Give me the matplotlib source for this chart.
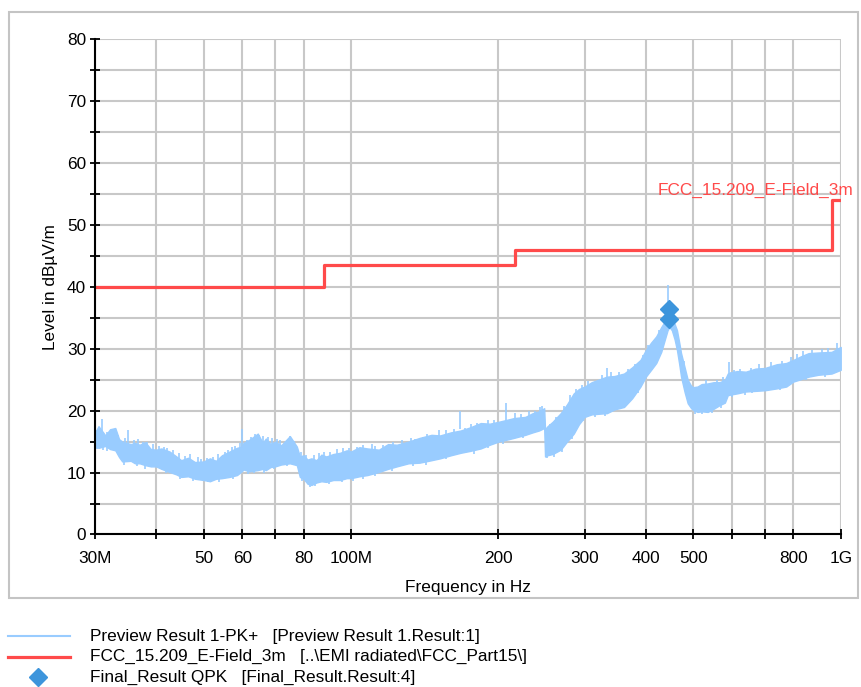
import matplotlib
matplotlib.use("Agg")
import matplotlib.pyplot as plt
from matplotlib.lines import Line2D
from matplotlib.patches import Rectangle
from matplotlib.ticker import FixedLocator, NullLocator

plt.rcParams['font.family'] = ['Liberation Sans', 'DejaVu Sans']

# Preview scan envelope (MHz, lower dB, upper dB)
scan_mhz = [30.0, 30.5, 31.5, 32.2, 33.0, 33.6, 34.1, 35.5, 36.2, 37.0, 38.0, 39.0,
            40.0, 41.0, 42.6, 44.0, 45.0, 46.5, 48.0, 50.0, 51.5, 53.0, 54.5, 56.5,
            58.5, 59.8, 60.3, 62.0, 64.5, 66.0, 67.0, 68.5, 70.0, 72.0, 75.0, 77.5,
            78.6, 80.0, 81.5, 83.0, 85.0, 87.0, 89.0, 92.0, 95.0, 98.0, 100.0, 104.0,
            108.0, 114.0, 119.0, 124.0, 131.0, 138.0, 146.0, 152.0, 160.0, 167.5, 175.0,
            184.0, 192.0, 200.0, 207.5, 215.0, 227.0, 235.0, 242.0, 248.0, 249.0, 252.0,
            258.0, 268.0, 276.0, 285.0, 292.0, 300.0, 310.0, 320.0, 333.0, 345.0, 361.0,
            375.0, 390.0, 400.0, 410.0, 420.0, 430.0, 437.0, 443.0, 447.0, 452.0, 458.0,
            463.0, 468.0, 472.0, 480.0, 487.0, 495.0, 500.0, 510.0, 520.0, 535.0, 550.0,
            566.0, 580.0, 588.0, 595.0, 615.0, 640.0, 670.0, 700.0, 740.0, 774.0, 800.0,
            830.0, 860.0, 900.0, 958.0, 1000.0]
scan_lo = [14.2, 14.0, 14.3, 13.8, 13.6, 12.5, 11.8, 11.9, 11.5, 11.5, 11.2, 11.0,
           11.0, 10.6, 10.1, 9.7, 9.3, 9.4, 9.0, 8.8, 8.6, 9.0, 9.1, 9.3,
           9.6, 10.2, 10.5, 10.2, 10.4, 10.6, 10.4, 10.9, 11.0, 11.3, 11.5, 11.2,
           9.3, 9.0, 8.2, 8.0, 8.4, 8.6, 8.5, 8.8, 8.8, 9.1, 9.1, 9.4,
           9.6, 10.1, 10.6, 11.0, 11.5, 11.6, 12.0, 12.3, 12.8, 13.2, 13.5,
           13.9, 14.5, 15.0, 15.3, 15.6, 16.1, 16.5, 16.8, 17.2, 12.6, 12.8,
           13.0, 13.7, 15.0, 16.3, 17.8, 19.0, 19.4, 19.5, 19.6, 20.2, 20.6,
           22.0, 23.9, 25.5, 26.6, 27.7, 29.5, 31.4, 33.0, 33.5, 33.0, 31.5,
           29.8, 27.5, 25.5, 23.0, 21.2, 20.4, 20.1, 19.8, 19.9, 19.8, 20.3,
           20.9, 21.3, 22.5, 22.6, 22.8, 23.1, 23.2, 23.3, 23.6, 23.9, 24.7,
           25.1, 25.5, 25.8, 26.0, 26.6]
scan_hi = [16.4, 17.5, 16.0, 17.0, 17.2, 15.4, 15.0, 14.6, 14.8, 14.5, 14.9, 13.8,
           13.7, 13.9, 13.4, 12.6, 12.0, 12.4, 11.7, 11.8, 12.3, 11.9, 12.8, 13.4,
           14.0, 14.2, 14.8, 15.3, 16.3, 14.8, 15.5, 14.6, 15.0, 14.4, 15.9, 14.2,
           12.6, 12.8, 12.1, 12.3, 12.0, 12.9, 12.6, 13.0, 13.2, 13.6, 13.4, 14.1,
           13.9, 13.7, 14.6, 14.5, 15.0, 15.6, 16.1, 16.0, 16.5, 16.8, 17.3,
           18.0, 17.9, 18.2, 18.5, 18.8, 19.0, 19.6, 19.9, 20.4, 17.0, 17.5,
           18.2, 19.6, 21.0, 22.8, 23.5, 23.9, 24.6, 25.0, 25.5, 25.6, 26.0,
           27.0, 28.2, 29.8, 31.0, 32.0, 33.5, 34.4, 35.2, 35.5, 34.7, 34.0,
           33.0, 31.0, 29.3, 27.0, 25.0, 24.0, 23.8, 23.9, 24.3, 24.4, 24.6,
           24.6, 25.0, 26.0, 26.2, 26.4, 26.3, 26.8, 26.9, 27.5, 27.7, 28.2,
           28.8, 29.3, 29.4, 29.5, 30.3]

# Single-bin spikes above the band and dips below it
spike_mhz = [30.3, 31.0, 31.8, 32.5, 33.4, 34.6, 35.0, 36.0, 36.8, 37.6, 38.3, 39.5,
             40.5, 41.5, 42.0, 43.3, 44.5, 45.8, 47.0, 48.8, 49.5, 50.8, 52.2, 53.5,
             55.2, 56.0, 57.2, 58.0, 59.2, 60.0, 61.2, 62.6, 63.8, 65.0, 66.2, 67.6,
             69.0, 70.6, 71.5, 73.5, 75.2, 76.3, 79.2, 80.8, 84.0, 86.0, 88.0, 90.5,
             93.5, 96.5, 99.0, 103.0, 106.0, 110.5, 112.0, 116.0, 122.0, 127.0, 132.5,
             135.0, 140.5, 143.0, 151.0, 156.0, 162.0, 167.0, 171.0, 176.0, 181.0,
             190.0, 196.0, 207.0, 216.0, 222.0, 231.0, 238.0, 243.0, 246.0, 255.0,
             262.0, 272.0, 280.0, 288.0, 296.0, 305.0, 326.0, 334.0, 340.0, 352.0,
             368.0, 380.0, 395.0, 405.0, 425.0, 444.0, 478.0, 530.0, 560.0, 575.0,
             590.0, 605.0, 622.0, 655.0, 681.0, 720.0, 760.0, 790.0, 815.0, 838.0,
             875.0, 915.0, 940.0, 985.0]
spike_top = [16.8, 18.6, 16.5, 17.0, 16.0, 15.6, 16.9, 15.3, 15.4, 14.9, 15.0, 14.6,
             14.3, 14.2, 13.9, 13.7, 13.2, 12.7, 13.0, 12.5, 12.2, 12.4, 12.5, 13.0,
             13.4, 13.6, 14.1, 14.3, 14.8, 17.0, 15.2, 15.8, 16.3, 16.0, 15.9, 15.8,
             15.6, 15.4, 15.2, 15.0, 15.9, 15.1, 13.4, 12.8, 12.8, 13.2, 13.3, 13.3,
             13.8, 14.0, 13.9, 14.2, 14.5, 14.6, 14.3, 14.5, 15.0, 15.2, 15.6,
             15.4, 15.7, 16.2, 16.8, 16.8, 17.0, 20.0, 17.2, 17.8, 18.0,
             18.5, 18.5, 21.2, 19.6, 19.5, 19.9, 20.0, 20.6, 20.8, 17.8,
             19.0, 20.8, 22.5, 23.5, 24.2, 24.8, 25.8, 26.9, 26.2, 26.3,
             26.8, 27.5, 29.0, 30.6, 33.0, 40.3, 28.0, 24.9, 25.0, 25.4,
             27.9, 26.6, 26.8, 26.9, 27.6, 27.8, 28.0, 28.6, 29.2, 29.6,
             29.8, 30.0, 30.1, 31.0]
dip_mhz = [31.2, 34.4, 36.5, 38.0, 41.8, 44.8, 47.5, 51.0, 53.8, 57.5, 61.5, 63.5,
           66.5, 69.5, 74.0, 79.5, 82.5, 84.5, 90.0, 96.0, 101.0, 106.0, 112.0, 121.0,
           134.0, 142.0, 156.0, 178.0, 190.0, 204.0, 224.0, 251.0, 260.0, 270.0, 283.0,
           298.0, 315.0, 330.0, 355.0, 385.0, 505.0, 520.0, 545.0, 570.0, 600.0, 637.0,
           660.0, 750.0, 850.0, 930.0]
dip_bottom = [13.6, 11.3, 11.0, 10.6, 10.0, 9.0, 8.6, 8.4, 8.5, 9.0, 9.8, 9.9,
              10.0, 10.5, 11.0, 8.6, 7.6, 7.8, 8.2, 8.4, 8.7, 9.0, 9.5, 10.2,
              11.0, 11.3, 12.2, 13.0, 14.0, 14.6, 15.6, 12.3, 12.5, 13.3, 15.5,
              18.4, 18.9, 19.2, 20.2, 22.8, 19.4, 19.5, 19.7, 20.5, 22.2, 22.6,
              22.8, 23.3, 25.0, 25.5]

# FCC 15.209 radiated limit at 3 m
limit_mhz = [30.0, 88.0, 216.0, 960.0, 1000.0]
limit_db = [40.0, 43.5, 46.0, 54.0, 54.0]

# Final quasi-peak measurements
final_mhz = [445.0, 445.5]
final_db = [36.5, 34.8]

x_ticks = [30, 40, 50, 60, 70, 80, 100, 200, 300, 400, 500, 600, 700, 800, 1000]
x_labels = ['30M', '', '50', '60', '', '80', '100M', '200', '300', '400', '500',
            '', '', '800', '1G']

legend_labels = [
    'Preview Result 1-PK+   [Preview Result 1.Result:1]',
    r'FCC_15.209_E-Field_3m   [..\EMI radiated\FCC_Part15\]',
    'Final_Result QPK   [Final_Result.Result:4]',
]

BLUE = '#99ccff'
RED = '#ff4a4a'
MARK = '#3d95dc'
FS = 12.4

fig = plt.figure(figsize=(8.62, 6.87), dpi=100)
ax = fig.add_axes([0.1102, 0.2220, 0.8651, 0.7208])

hz = lambda v: [f * 1e6 for f in v]

ax.fill_between(hz(scan_mhz), scan_lo, scan_hi, color=BLUE, lw=1.0, zorder=2)
ax.vlines(hz(spike_mhz), [t - 3.0 for t in spike_top], spike_top,
          color=BLUE, lw=1.2, zorder=2)
ax.vlines(hz(dip_mhz), dip_bottom, [b + 3.0 for b in dip_bottom],
          color=BLUE, lw=1.2, zorder=2)

ax.step(hz(limit_mhz), limit_db, where='post', color=RED, lw=2.3, zorder=3)
ax.text(423e6, 55.6, 'FCC_15.209_E-Field_3m', color=RED, fontsize=FS,
        va='center', ha='left', clip_on=False)

ax.plot(hz(final_mhz), final_db, ls='none', marker='D', ms=8.8, color=MARK, zorder=4)

ax.set_xscale('log')
ax.set_xlim(30e6, 1e9)
ax.set_ylim(0, 80)
ax.xaxis.set_major_locator(FixedLocator(hz(x_ticks)))
ax.xaxis.set_minor_locator(NullLocator())
ax.set_xticklabels(x_labels)
ax.set_yticks(range(0, 81, 10))
ax.set_yticks(range(5, 80, 10), minor=True)

ax.grid(True, which='both', color='#c8c8c8', lw=1.5)
ax.set_axisbelow(True)
for s in ['top', 'right']:
    ax.spines[s].set_visible(False)
for s in ['left', 'bottom']:
    ax.spines[s].set_linewidth(1.5)
    ax.spines[s].set_zorder(5)

ax.tick_params(axis='both', which='both', direction='inout', length=7.5, width=1.3,
               labelsize=FS, color='black')
ax.tick_params(axis='y', pad=2.6)
ax.tick_params(axis='x', pad=8.2)

ax.set_xlabel('Frequency in Hz', fontsize=FS)
ax.set_ylabel('Level in dBµV/m', fontsize=FS)
ax.xaxis.label.set_va('center')
ax.yaxis.label.set_va('center')
ax.xaxis.set_label_coords(0.5, -0.107)
ax.yaxis.set_label_coords(-0.059, 0.5)

# grey frame around the plot area
fig.add_artist(Rectangle((0.0104, 0.1296), 0.985, 0.8529, transform=fig.transFigure,
                         fill=False, edgecolor='#c4c4c4', lw=1.5))

# legend block under the frame
W, H = 862.0, 687.0
rows = [636, 656.5, 677]
fig.add_artist(Line2D([8 / W, 70 / W], [1 - rows[0] / H] * 2, color=BLUE, lw=1.5))
fig.add_artist(Line2D([8 / W, 70 / W], [1 - rows[1] / H] * 2, color=RED, lw=2.3))
fig.add_artist(Line2D([38 / W], [1 - rows[2] / H], ls='none', marker='D', ms=8.8,
                      color=MARK))
for y, label in zip(rows, legend_labels):
    fig.text(90 / W, 1 - y / H, label, fontsize=FS, va='center', ha='left')

fig.savefig('out.png', dpi=100)
